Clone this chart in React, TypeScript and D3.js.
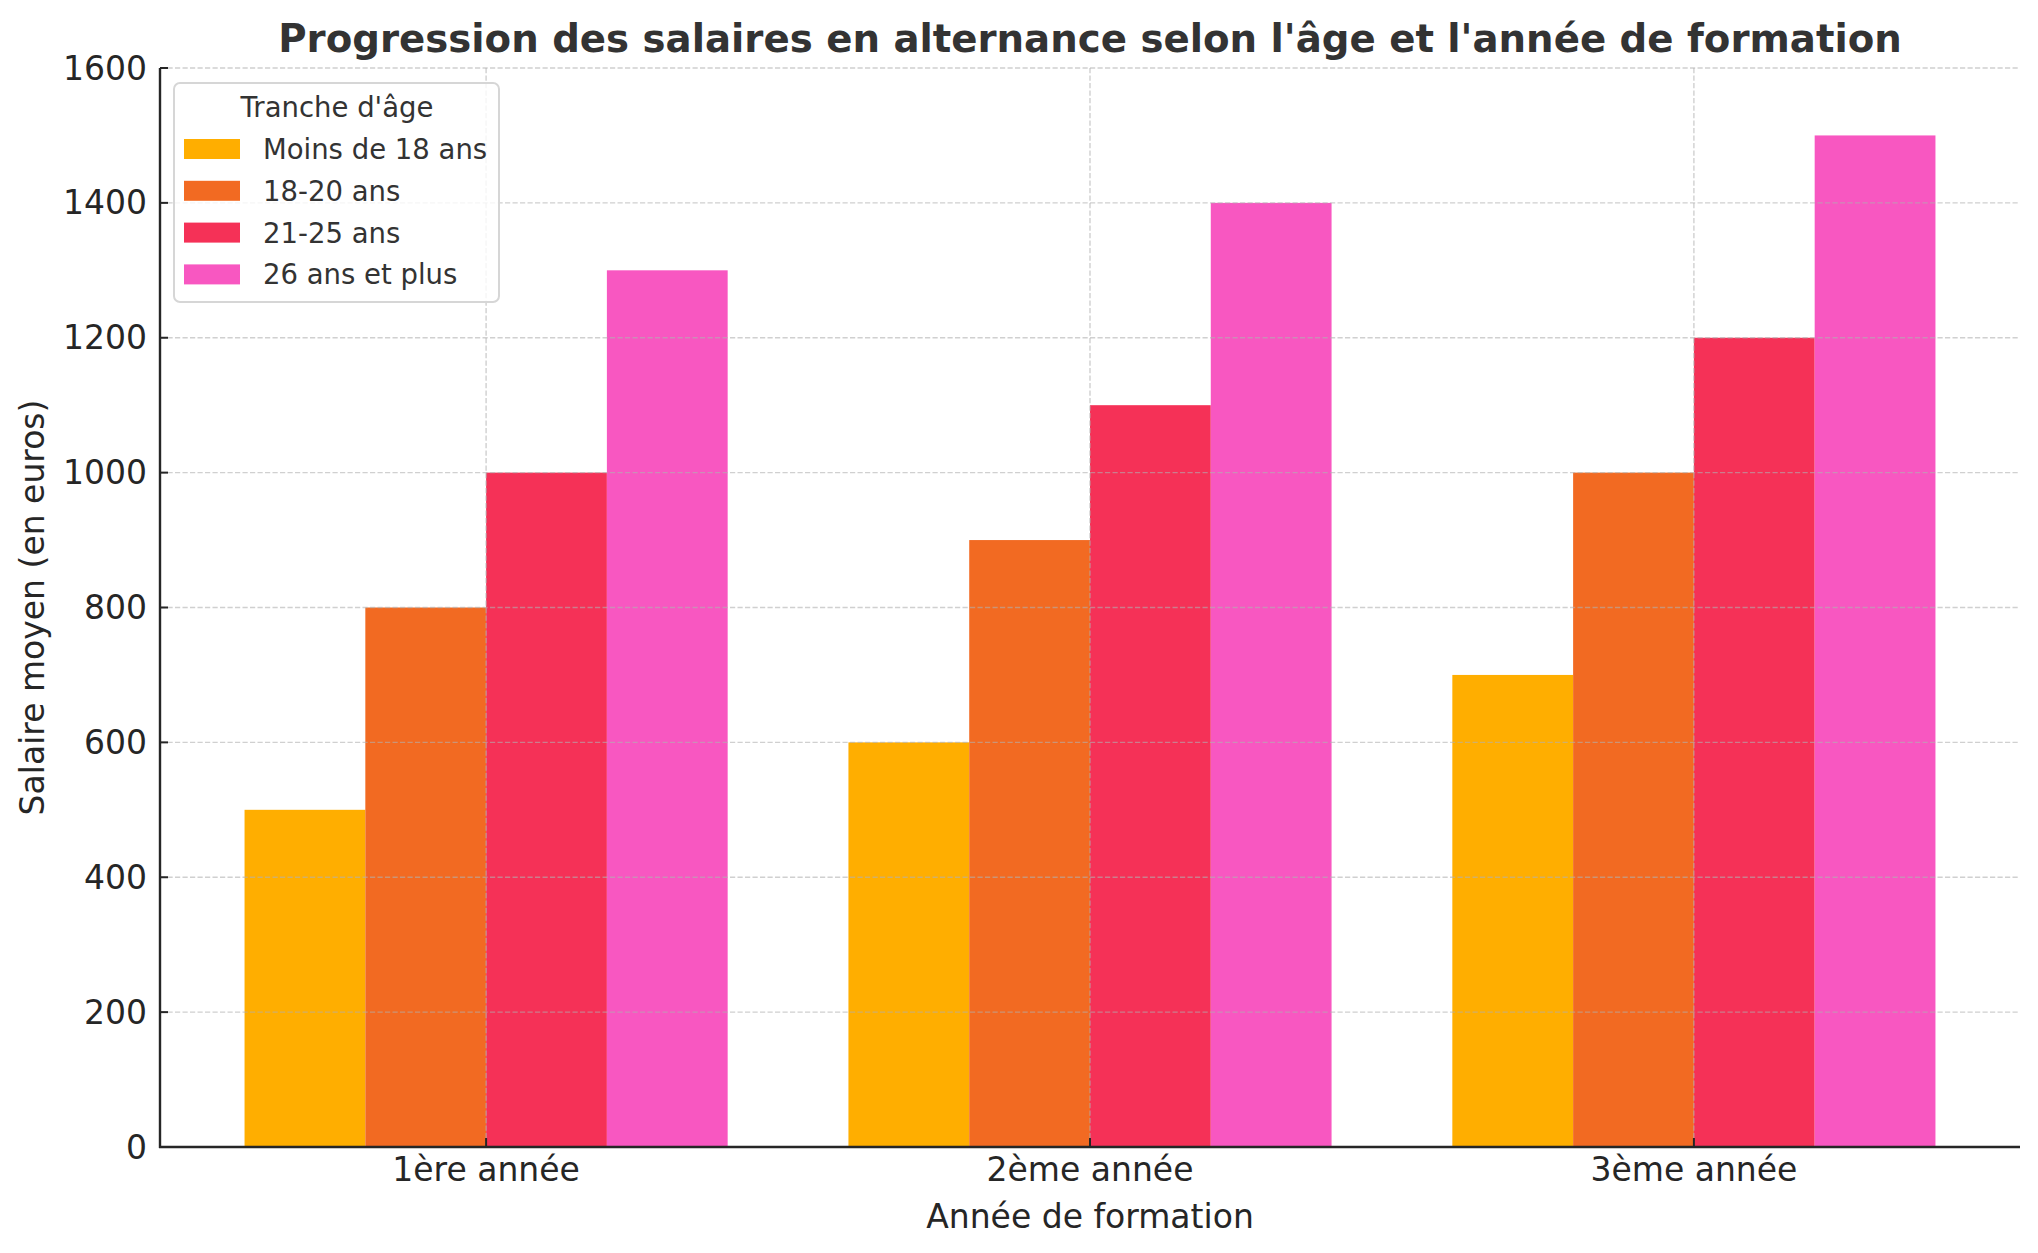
import React from "react";
import * as d3 from "d3";

const categories = ["1ère année", "2ème année", "3ème année"];
const seriesNames = ["Moins de 18 ans", "18-20 ans", "21-25 ans", "26 ans et plus"];
const seriesColors = ["#FFAE00", "#F26A22", "#F53157", "#F857C1"];
const moins18 = [500, 600, 700];
const s18_20 = [800, 900, 1000];
const s21_25 = [1000, 1100, 1200];
const s26plus = [1300, 1400, 1500];
const seriesValues = [moins18, s18_20, s21_25, s26plus];
const yTicks = [0, 200, 400, 600, 800, 1000, 1200, 1400, 1600];

const W = 2038;
const H = 1253;
const left = 160;
const right = 2020;
const top = 68;
const bottom = 1147;
const FONT = "DejaVu Sans, sans-serif";

export default function App() {
  const barW = 0.2;
  const x = d3.scaleLinear().domain([-0.54, 2.54]).range([left, right]);
  const y = d3.scaleLinear().domain([0, 1600]).range([bottom, top]);
  const unit = x(1) - x(0);

  return (
    <svg width={W} height={H} style={{ position: "absolute", left: 0, top: 0, background: "#fff" }} fontFamily={FONT}>
      <rect x={0} y={0} width={W} height={H} fill="#fff" />
      {/* bars */}
      {seriesValues.map((vals, si) =>
        vals.map((v, ci) => {
          const cx = ci + (si - 1.5) * barW;
          return (
            <rect
              key={`b${si}-${ci}`}
              x={x(cx - barW / 2)}
              y={y(v)}
              width={unit * barW}
              height={y(0) - y(v)}
              fill={seriesColors[si]}
            />
          );
        })
      )}
      {/* grid */}
      {yTicks.map((t) => (
        <line key={`gy${t}`} x1={left} x2={right} y1={y(t)} y2={y(t)} stroke="#b0b0b0" strokeOpacity={0.6} strokeWidth={1.4} strokeDasharray="5.2,2.3" />
      ))}
      {categories.map((c, i) => (
        <line key={`gx${i}`} x1={x(i)} x2={x(i)} y1={top} y2={bottom} stroke="#b0b0b0" strokeOpacity={0.6} strokeWidth={1.4} strokeDasharray="5.2,2.3" />
      ))}
      {/* spines */}
      <line x1={left} x2={left} y1={top} y2={bottom + 1} stroke="#262626" strokeWidth={2.4} />
      <line x1={left - 1} x2={right} y1={bottom} y2={bottom} stroke="#262626" strokeWidth={2.4} />
      {/* y ticks */}
      {yTicks.map((t) => (
        <g key={`yt${t}`}>
          <line x1={left} x2={left + 8} y1={y(t)} y2={y(t)} stroke="#262626" strokeWidth={2} />
          <text x={147} y={y(t)} textAnchor="end" dominantBaseline="central" fontSize={33} fill="#262626">
            {t}
          </text>
        </g>
      ))}
      {/* x ticks */}
      {categories.map((c, i) => (
        <g key={`xt${i}`}>
          <line x1={x(i)} x2={x(i)} y1={bottom} y2={bottom - 9} stroke="#262626" strokeWidth={2} />
          <text x={x(i)} y={1181} textAnchor="middle" fontSize={33} fill="#262626">
            {c}
          </text>
        </g>
      ))}
      {/* axis labels */}
      <text x={(left + right) / 2} y={1228} textAnchor="middle" fontSize={33} fill="#262626">
        Année de formation
      </text>
      <text transform={`translate(44, ${(top + bottom) / 2}) rotate(-90)`} textAnchor="middle" fontSize={33} fill="#262626">
        Salaire moyen (en euros)
      </text>
      {/* title */}
      <text x={(left + right) / 2} y={52} textAnchor="middle" fontSize={38.7} fontWeight="bold" fill="#333333">
        Progression des salaires en alternance selon l'âge et l'année de formation
      </text>
      {/* legend */}
      <g>
        <rect x={174} y={83} width={325} height={219} rx={6} ry={6} fill="#fff" fillOpacity={0.8} stroke="#d6d6d6" strokeWidth={2} />
        <text x={337} y={117} textAnchor="middle" fontSize={27.5} fill="#333333">
          Tranche d'âge
        </text>
        {seriesNames.map((n, i) => (
          <g key={`lg${i}`}>
            <rect x={184} y={139 + i * 41.8} width={56} height={20} fill={seriesColors[i]} />
            <text x={263} y={149 + i * 41.8} dominantBaseline="central" fontSize={27.5} fill="#333333">
              {n}
            </text>
          </g>
        ))}
      </g>
    </svg>
  );
}
